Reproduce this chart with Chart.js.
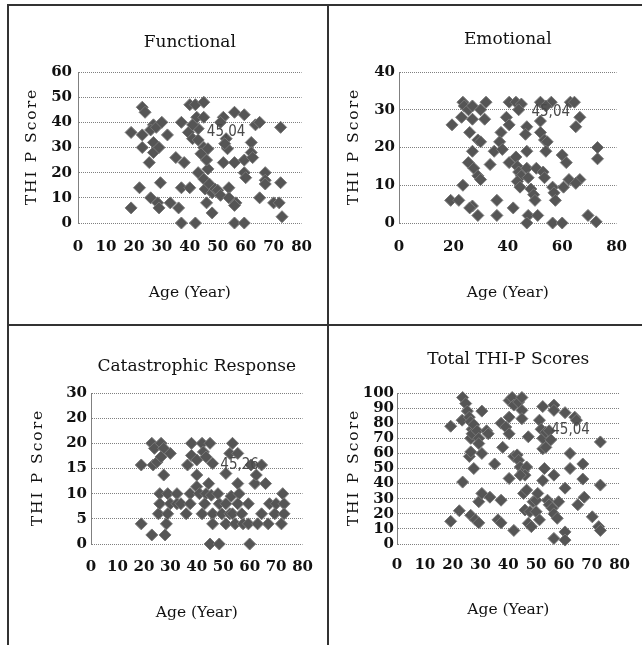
<!DOCTYPE html>
<html>
<head>
<meta charset="utf-8">
<script src="https://cdn.jsdelivr.net/npm/chart.js@4.4.1/dist/chart.umd.min.js"></script>
<style>
  body { margin: 0; background: #fff; }
  #page { position: relative; width: 642px; height: 645px; overflow: hidden; background: #fff; }
  .cell { position: absolute; }
  .line { position: absolute; background: #333; }
</style>
</head>
<body>
<div id="page">
  <div class="cell" style="left:9px;top:7px;width:318px;height:317px"><canvas id="functional"></canvas></div>
  <div class="cell" style="left:330px;top:7px;width:312px;height:317px"><canvas id="emotional"></canvas></div>
  <div class="cell" style="left:9px;top:327px;width:318px;height:318px"><canvas id="catastrophic"></canvas></div>
  <div class="cell" style="left:330px;top:327px;width:312px;height:318px"><canvas id="total"></canvas></div>
  <div class="line" style="left:7px;top:4px;width:635px;height:2px"></div>
  <div class="line" style="left:7px;top:324px;width:635px;height:2px"></div>
  <div class="line" style="left:7px;top:4px;width:2px;height:641px"></div>
  <div class="line" style="left:327px;top:4px;width:2px;height:641px"></div>
</div>
<script>
// Functional
var functionalAge = [19,19,23,24,23,23,22,27,26,28,27,25.5,27,29,30,32,29.5,26,28.5,29,33,35,38,36,37,40,37,42,37,40,42,45,39.5,41,42.5,45,43,43,45,44,46.5,43,45,46.5,46,45.5,47,48,49,50,51,46,48,52,51,53,53.5,52.5,52,56,54,54,56,56.5,56,56,59.5,59.5,59.5,59.5,60,62,62,62.5,63.5,65,65,67,67,67,70,72,72.5,72.5,73,41];
var functionalScore = [36,6,46,44,35,30,14,39,37,38,32,24,28,30,40,35,16,10,8,6,8,26,24,6,14,14,0,0,40,47,47,48,36,33.5,42,42,37.5,33,30,27.5,29.5,20,17.5,21.5,25,13.5,15.5,12,13.5,13,11,8,4,42,40,33.5,29.5,31.5,24,44,14,10,24,8,7,0,0,43,25,20,18,32,28,26,39,40,10,20,17,15.5,8,8,38,16,2.5,39];

// Emotional
var emotionalAge = [19.5,19,22,23.5,24,25.5,27,30,32,23,27,31.5,26,29,30,27,25.5,27.5,29,30,23.5,33.5,27,26,29,35,36,42,36,37.5,37,38,39.5,40.5,40.5,43,45,44,47,46.5,47,40.5,43,43.5,44,45,43.5,44.5,47,47.5,48.5,49.5,50.5,50,47.5,47,51,52,56,54,52,52,53.5,54.5,54,53,53.5,56.5,57,57.5,56.5,60,60,61.5,62.5,60.5,63,64.5,66.5,65,66.5,65,69.5,72.5,73,73];
var emotionalScore = [26,6,6,32,31,30,31,30,32,28,27.5,27.5,24,22,21.5,19,16,14.5,12.5,11.5,10,15.5,4.5,4,2,19,6,4,2,24,21.5,19.5,28,26,32,32,31.5,30,25.5,23.5,19,16,17.5,15,13.5,12.5,11,9.5,14.5,12,9,7.5,14.5,6,2,0,2,32,32,31,27,24,22,21.5,19,13.5,12,9.5,8,6,0,0,18,16,11.5,9.5,32,32,28,25.5,11.5,10.5,2,0.3,20,17];

// Catastrophic Response
var catastrophicAge = [19,19,23,23,24,23.5,25,26.5,27.5,26.5,30,27.5,26,25.5,26,28,28.5,29,30,29,32.5,32.5,34,36,37.5,37.5,36.5,38,38,40,40,40,41,42,42,42.5,45,43.5,44.5,43.5,43,46,45.5,46,46,48.5,48,49.5,45,48.5,51,52.5,51,53.5,52.5,51,53,53.5,54.5,55.5,56,55.5,57,57.5,55.5,59.5,59.5,60,60.5,62,62.5,64.5,64.5,66,67,67.5,69.5,70,72,72.5,73,73,63];
var catastrophicScore = [15.7,4,20,1.8,19,15.7,16.3,20,19,17.3,18,13.7,10,6,8,1.8,4,6,8,10,10,8,8,6,10,8,15.7,20,17.6,16.7,13.7,11.4,10,6,20,18.3,20,17.3,12,10,8,16,9.7,6,4,8,10,6,0,0,8,6,4,20,18,14,9.5,6,4,12,10,8,6,4,18,8,4,0,15.7,12,13.7,15.7,6,12,4,8,6,8,4,10,8,6,4];

// Total THI-P
var totalAge = [19.3,19.3,22.4,23.6,23.6,23.4,24.7,25.3,26,26.5,27,26.5,27,26,26.5,27.6,27.6,28.8,29.4,30.5,26.5,28.2,29.4,29.4,30.5,30.5,29.4,32.2,32.8,33.4,35.1,37.4,36.3,37.4,38,37.4,39.1,40.3,40.3,40.3,41.4,42,43.7,44.9,44.9,44.9,42,43.2,43.7,44.3,45.4,46.6,46,44.3,40.3,42,47.2,45.5,46.6,46,47.8,47.2,48.3,48.9,50,50.6,50,51.2,52.4,53,51.2,52.4,51.8,52.4,53.5,52.4,53.5,54.7,55.3,54.1,54.7,55.8,56.4,56.4,56.4,56.4,56.4,57.6,58.1,60.4,60.4,60.4,60.4,62.2,62.2,63.9,64.5,65,66.8,66.8,67.3,70.2,72.5,73.1,73.1,73.1];
var totalScore = [15,78,22,97,41,82,93,88,84,81,76,70,73,58,61,50,79,75,70,88,19,16,14,28,33.5,60,66.5,75,73,31,53,29,16,14,64,80,77.5,84,73,95,97,92,94,97,88.5,83,58,59,55.5,51,48,51,45.6,45.6,43.4,9,71,33.5,35.7,22.5,21.4,13.7,11.5,28,29,33.5,21.4,16,42,50,82,91,76,70,74,63,64,75,69,29,26,23.6,20,92,88.5,45.6,3.7,17,28,87,8,2.6,37,60,50,84,82,26,53,43,31,18,11.5,9,67.6,39];

// tick labels
var ticksFunctional = ['0','10','20','30','40','50','60'];
var ticksEmotional = ['0','10','20','30','40'];
var ticksCatastrophic = ['0','5','10','15','20','20','30'];
var ticksTotal = ['0','10','20','30','40','50','60','70','80','90','100'];

var serif = '"DejaVu Serif", "Liberation Serif", serif';

// texto extra: titulo vertical com espaçamento e rótulo "45,04"
var extraText = {
    id: 'extraText',
    afterDatasetsDraw: function(chart, args, opts) {
        var ctx = chart.ctx;
        var area = chart.chartArea;
        ctx.save();
        ctx.fillStyle = '#4a4a4a';
        ctx.font = '15px "Liberation Sans Narrow", "DejaVu Sans Condensed", sans-serif';
        ctx.textAlign = 'center';
        ctx.textBaseline = 'middle';
        ctx.fillText(opts.note, chart.scales.x.getPixelForValue(opts.noteX), chart.scales.y.getPixelForValue(opts.noteY));
        ctx.restore();

        ctx.save();
        ctx.translate(opts.yTitleX, (area.top + area.bottom) / 2);
        ctx.rotate(-Math.PI / 2);
        ctx.fillStyle = '#111';
        ctx.font = '15.5px ' + serif;
        ctx.letterSpacing = '2px';
        ctx.textAlign = 'center';
        ctx.textBaseline = 'middle';
        ctx.fillText('THI P Score', 1, 0);
        ctx.restore();
    }
};

function makeChart(id, ages, scores, tickLabels, c) {
    var pts = ages.map(function(a, i) { return {x: a, y: scores[i]}; });
    return new Chart(document.getElementById(id), {
        type: 'scatter',
        data: {
            datasets: [{
                data: pts,
                pointStyle: 'rectRot',
                pointRadius: 6,
                pointHoverRadius: 6,
                backgroundColor: '#555',
                borderColor: '#777',
                borderWidth: 1,
                clip: false
            }]
        },
        options: {
            responsive: true,
            maintainAspectRatio: false,
            animation: false,
            events: [],
            layout: { padding: { left: 0, top: 0, bottom: 0, right: c.W - c.plot[1] } },
            plugins: {
                legend: { display: false },
                tooltip: { enabled: false },
                title: {
                    display: true,
                    fullSize: false,
                    text: c.title,
                    color: '#111',
                    font: { family: serif, size: 17, weight: 'normal', lineHeight: 1.2 },
                    padding: { top: c.titleY - 10.2, bottom: c.plot[2] - c.titleY - 10.2 }
                },
                extraText: { note: c.note, noteX: c.noteX, noteY: c.noteY, yTitleX: c.yTitleX }
            },
            scales: {
                x: {
                    type: 'linear',
                    min: 0,
                    max: 80,
                    grid: { display: false, drawTicks: false },
                    border: { display: false },
                    ticks: {
                        stepSize: c.xStep,
                        autoSkip: false,
                        maxRotation: 0,
                        padding: c.xTickY - c.plot[3] - 9,
                        color: '#111',
                        font: { family: serif, size: 15, weight: 'bold' }
                    },
                    title: {
                        display: true,
                        text: 'Age (Year)',
                        color: '#111',
                        font: { family: serif, size: 15.5, lineHeight: 1.2 },
                        padding: { top: 0, bottom: c.H - c.xTitleY - 9.3 }
                    },
                    afterFit: function(s) { s.height = c.H - c.plot[3]; }
                },
                y: {
                    min: 0,
                    max: c.yMax,
                    grid: { color: '#808080', lineWidth: 1, drawTicks: false },
                    border: { display: true, color: '#808080', width: 1, dash: [1, 1] },
                    ticks: {
                        stepSize: c.yStep,
                        autoSkip: false,
                        padding: c.yPad,
                        color: '#111',
                        font: { family: serif, size: 15, weight: 'bold' },
                        callback: function(v, i) { return tickLabels[i]; }
                    },
                    afterFit: function(s) { s.width = c.plot[0]; }
                }
            }
        },
        plugins: [extraText]
    });
}

makeChart('functional', functionalAge, functionalScore, ticksFunctional, {
    title: 'Functional', W: 318, H: 317, plot: [69, 296, 65, 216],
    titleY: 36, xTickY: 240, xTitleY: 286, yTitleX: 23, yPad: 6,
    xStep: 10, yMax: 60, yStep: 10, note: '45,04', noteX: 53, noteY: 36.2
});
makeChart('emotional', emotionalAge, emotionalScore, ticksEmotional, {
    title: 'Emotional', W: 312, H: 317, plot: [69, 296, 65, 216],
    titleY: 33, xTickY: 240, xTitleY: 286, yTitleX: 24, yPad: 4,
    xStep: 20, yMax: 40, yStep: 10, note: '45,04', noteX: 55.8, noteY: 29.4
});
makeChart('catastrophic', catastrophicAge, catastrophicScore, ticksCatastrophic, {
    title: 'Catastrophic Response', W: 318, H: 318, plot: [82, 294, 66, 217],
    titleY: 40, xTickY: 240, xTitleY: 286, yTitleX: 29, yPad: 4,
    xStep: 10, yMax: 30, yStep: 5, note: '45,26', noteX: 56.2, noteY: 15.7
});
makeChart('total', totalAge, totalScore, ticksTotal, {
    title: 'Total THI-P Scores', W: 312, H: 318, plot: [67, 298, 66, 217],
    titleY: 33, xTickY: 238, xTitleY: 283, yTitleX: 24, yPad: 3,
    xStep: 10, yMax: 100, yStep: 10, note: '45,04', noteX: 62.4, noteY: 75.3
});
</script>
</body>
</html>
